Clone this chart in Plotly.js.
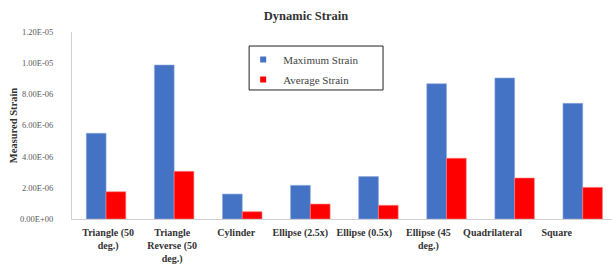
<!DOCTYPE html>
<html>
<head>
<meta charset="utf-8">
<script src="https://cdn.plot.ly/plotly-3.0.1.min.js"></script>
<style>body{margin:0;padding:0;background:#fff;}#chart{width:612px;height:264px;}</style>
</head>
<body>
<div id="chart"></div>
<script>
const categories = ["Triangle (50<br>deg.)", "Triangle<br>Reverse (50<br>deg.)", "Cylinder", "Ellipse (2.5x)", "Ellipse (0.5x)", "Ellipse (45<br>deg.)", "Quadrilateral", "Square"];
const maximumStrain = [5.5e-6, 9.88e-6, 1.6e-6, 2.16e-6, 2.72e-6, 8.68e-6, 9.05e-6, 7.42e-6];
const averageStrain = [1.75e-6, 3.06e-6, 0.47e-6, 0.96e-6, 0.88e-6, 3.9e-6, 2.63e-6, 2.03e-6];
const yTickVals = [0, 2e-6, 4e-6, 6e-6, 8e-6, 1e-5, 1.2e-5];
const yTickText = ["0.00E+00", "2.00E-06", "4.00E-06", "6.00E-06", "8.00E-06", "1.00E-05", "1.20E-05"];
const seriesNames = ["Maximum Strain", "Average Strain"];
const seriesColors = ["#4472C4", "#FF0000"];

const idx = categories.map((c, i) => i);
// the reference's category labels sit on a slightly tighter pitch than the bars
const labelPos = idx.map(i => 0.03 + i * 0.941);
const serif = "Liberation Serif";

const traces = [
  {type: "bar", x: idx, y: maximumStrain, name: seriesNames[0], showlegend: false,
   marker: {color: seriesColors[0], line: {color: "#8fa9dc", width: 0.6}}},
  {type: "bar", x: idx, y: averageStrain, name: seriesNames[1], showlegend: false,
   marker: {color: seriesColors[1], line: {color: "#ff8080", width: 0.6}}},
  {type: "scatter", mode: "markers", x: [null], y: [null], name: seriesNames[0], legendgroup: "a",
   marker: {symbol: "square", size: 6, color: seriesColors[0]}},
  {type: "scatter", mode: "markers", x: [null], y: [null], name: seriesNames[1], legendgroup: "b",
   marker: {symbol: "square", size: 6, color: seriesColors[1]}}
];

const layout = {
  width: 612, height: 264,
  margin: {l: 72, r: 0, t: 32, b: 45, pad: 0},
  paper_bgcolor: "#fff", plot_bgcolor: "#fff",
  barmode: "group", bargap: 0.42, bargroupgap: 0,
  font: {family: serif},
  title: {text: "<b>Dynamic Strain</b>", x: 0.5, xanchor: "center", y: 0.94, yanchor: "middle",
          font: {family: serif, size: 12.5, color: "#333"}},
  xaxis: {range: [-0.5, 7.43], tickvals: labelPos, ticktext: categories.map(c => "<b>" + c + "</b>"),
          showline: true, linecolor: "#d0d0d0", linewidth: 1, showgrid: false, zeroline: false,
          ticks: "", ticklabelstandoff: 4, tickfont: {family: serif, size: 10, color: "#333"}, tickangle: 0, fixedrange: true},
  yaxis: {range: [0, 1.2e-5], tickvals: yTickVals, ticktext: yTickText,
          showline: true, linecolor: "#d0d0d0", linewidth: 1, showgrid: false, zeroline: false,
          ticks: "", ticklabelstandoff: 16, tickfont: {family: serif, size: 8.5, color: "#595959"}},
  annotations: [{text: "<b>Measured Strain</b>", xref: "paper", yref: "paper", x: -0.108, y: 0.5,
                 xanchor: "center", yanchor: "middle", textangle: -90, showarrow: false,
                 font: {family: serif, size: 10.5, color: "#333"}}],
  shapes: [{type: "rect", xref: "paper", yref: "paper", x0: 0.328, x1: 0.576, y0: 0.69, y1: 0.925,
            line: {color: "#222", width: 1}, fillcolor: "#fff", layer: "below"}],
  showlegend: true,
  legend: {x: 0.317, y: 0.93, xanchor: "left", yanchor: "top", bgcolor: "rgba(0,0,0,0)",
           borderwidth: 0, traceorder: "grouped", tracegroupgap: 1,
           font: {family: serif, size: 11, color: "#444"}}
};

Plotly.newPlot("chart", traces, layout, {displayModeBar: false, staticPlot: true});
</script>
</body>
</html>
